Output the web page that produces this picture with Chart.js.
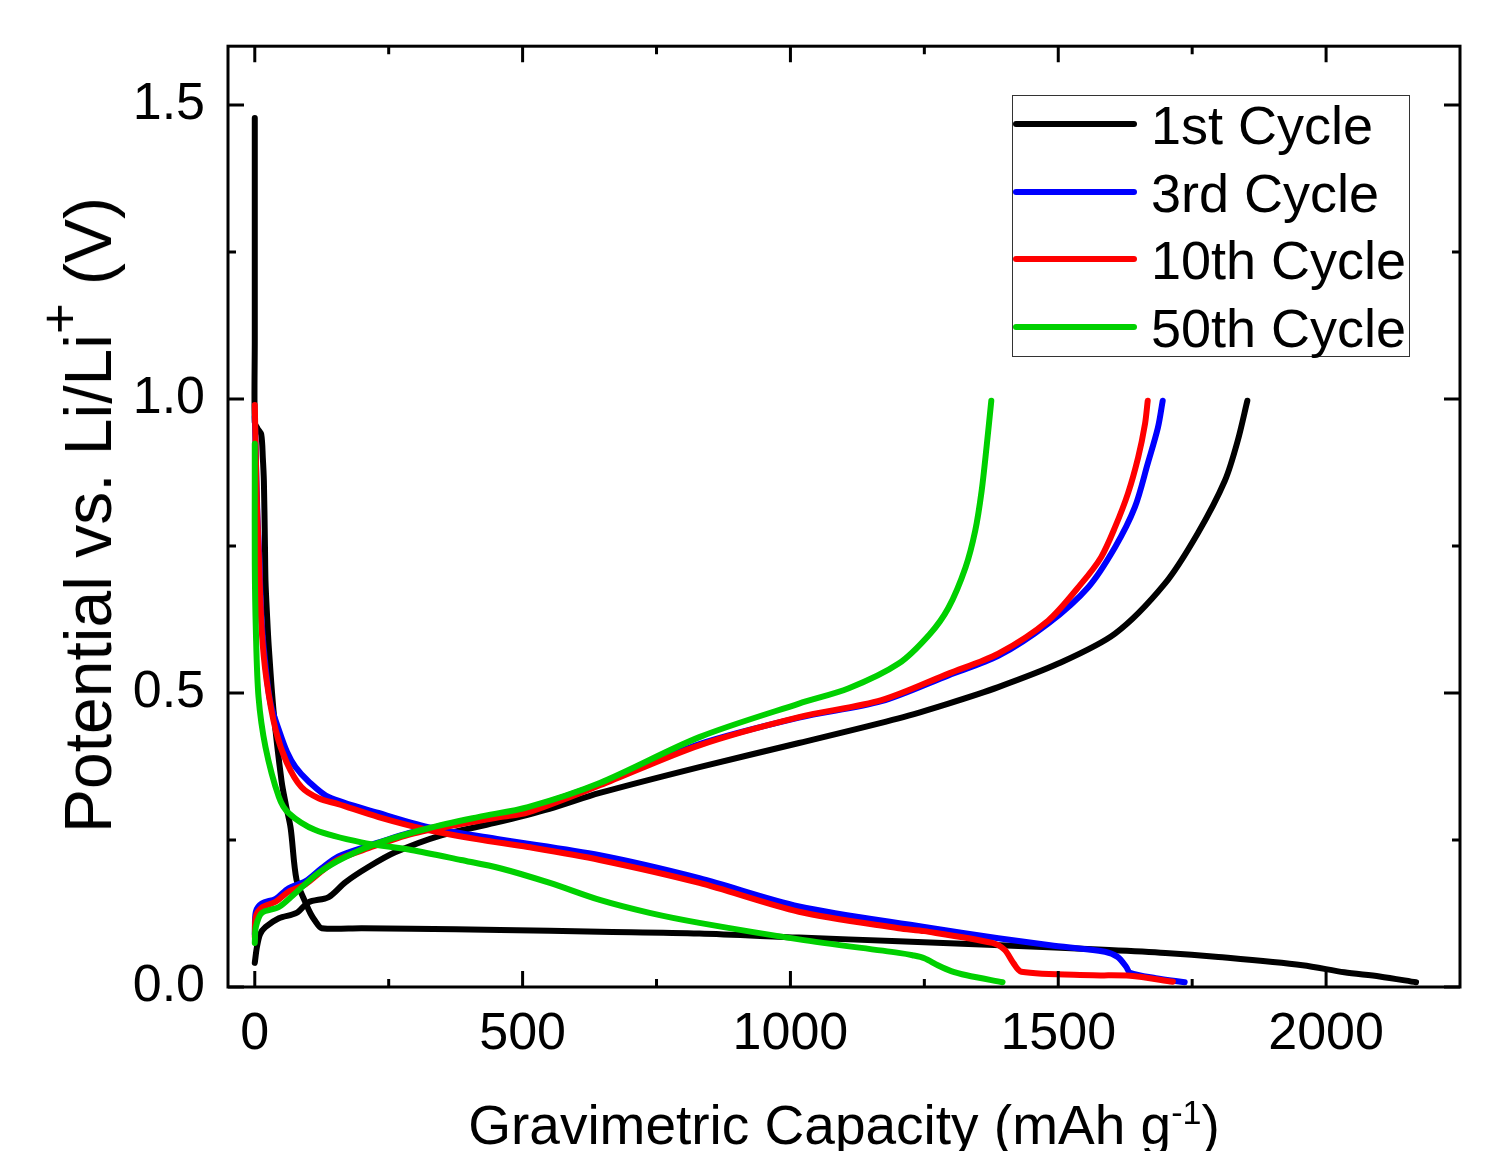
<!DOCTYPE html>
<html>
<head>
<meta charset="utf-8">
<script src="https://cdn.jsdelivr.net/npm/chart.js@4.4.1/dist/chart.umd.min.js"></script>
<style>
  html, body { margin: 0; padding: 0; background: #fff; }
  #wrap { position: relative; width: 1499px; height: 1151px; overflow: hidden; font-family: "Liberation Sans", Arial, sans-serif; color: #000; }
  #c { position: absolute; left: 0; top: 0; }
  .ytitle { position: absolute; left: 88px; top: 515px; transform: translate(-50%, -50%) rotate(-90deg); font-size: 66px; white-space: nowrap; line-height: 1; }
  .ytitle sup { font-size: 0.8em; vertical-align: 0.62em; line-height: 0; }
  .xtitle { position: absolute; left: 844px; top: 1098px; transform: translateX(-50%); font-size: 55px; white-space: nowrap; line-height: 1; }
  .xtitle sup { font-size: 0.62em; vertical-align: 0.6em; line-height: 0; }
  #legend { position: absolute; left: 1012px; top: 95px; width: 398px; height: 262px; border: 1.5px solid #333; box-sizing: border-box; }
  .row { position: absolute; left: 0; height: 60px; width: 420px; }
  .row .ln { position: absolute; left: 0; top: 26px; width: 124px; height: 6px; border-radius: 3px; }
  .row .tx { position: absolute; left: 138px; top: 0; font-size: 54px; line-height: 60px; white-space: nowrap; }
</style>
</head>
<body>
<div id="wrap">
  <canvas id="c" width="1499" height="1151"></canvas>
  <div class="ytitle">Potential vs. Li/Li<sup>+</sup> (V)</div>
  <div class="xtitle">Gravimetric Capacity (mAh g<sup>-1</sup>)</div>
  <div id="legend"></div>
</div>
<script>
// axis ticks
const xTicks = [0, 500, 1000, 1500, 2000];
const xMinor = [250, 750, 1250, 1750];
const yTicks = [0, 0.5, 1.0, 1.5];
const yMinor = [0.25, 0.75, 1.25];

const cycleNames = ['1st Cycle', '3rd Cycle', '10th Cycle', '50th Cycle'];
const cycleColors = ['#000000', '#0000ff', '#ff0000', '#00d000'];

// 1st cycle
const cap1Dis = [0, 0, 0, 0, 5, 12, 15, 17, 19, 20, 23, 26, 35, 50, 58, 67, 78, 95, 104, 113, 125, 200, 292, 458, 644, 830, 1016, 1202, 1392, 1595, 1700, 1799, 1956, 2034, 2100, 2168];
const volt1Dis = [1.478, 1.30, 1.10, 0.96, 0.95, 0.94, 0.90, 0.86, 0.75, 0.69, 0.63, 0.58, 0.47, 0.35, 0.31, 0.27, 0.182, 0.143, 0.125, 0.112, 0.100, 0.100, 0.099, 0.097, 0.094, 0.091, 0.084, 0.078, 0.071, 0.063, 0.058, 0.051, 0.037, 0.025, 0.018, 0.008];
const cap1Chg = [0, 4, 10, 20, 45, 78, 100, 138, 169, 212, 262, 348, 448, 550, 644, 830, 1016, 1202, 1295, 1388, 1500, 1606, 1699, 1760, 1811, 1835, 1853];
const volt1Chg = [0.041, 0.068, 0.090, 0.102, 0.117, 0.126, 0.144, 0.153, 0.178, 0.204, 0.229, 0.258, 0.279, 0.303, 0.330, 0.374, 0.415, 0.457, 0.482, 0.510, 0.550, 0.601, 0.686, 0.771, 0.861, 0.929, 0.997];

// 3rd cycle
const cap3Dis = [0, 2, 5, 8, 13, 22, 30, 45, 60, 76, 100, 138, 231, 324, 458, 644, 830, 1016, 1250, 1388, 1485, 1587, 1611, 1627, 1634, 1682, 1736];
const volt3Dis = [0.97, 0.90, 0.80, 0.74, 0.62, 0.53, 0.48, 0.437, 0.40, 0.374, 0.35, 0.323, 0.296, 0.272, 0.251, 0.224, 0.185, 0.137, 0.102, 0.083, 0.071, 0.060, 0.051, 0.034, 0.024, 0.015, 0.008];
const cap3Chg = [0, 2, 13, 39, 63, 95, 125, 156, 212, 292, 385, 458, 644, 830, 1016, 1170, 1295, 1388, 1481, 1556, 1606, 1643, 1667, 1686, 1695];
const volt3Chg = [0.090, 0.128, 0.142, 0.150, 0.168, 0.180, 0.202, 0.222, 0.240, 0.263, 0.280, 0.290, 0.345, 0.413, 0.458, 0.486, 0.530, 0.563, 0.618, 0.680, 0.748, 0.816, 0.890, 0.951, 0.997];

// 10th cycle
const cap10Dis = [0, 2, 4, 7, 13, 22, 39, 60, 87, 119, 156, 231, 324, 417, 510, 644, 830, 1016, 1202, 1250, 1377, 1400, 1416, 1431, 1565, 1634, 1714];
const volt10Dis = [0.99, 0.90, 0.82, 0.748, 0.607, 0.522, 0.437, 0.381, 0.340, 0.321, 0.311, 0.289, 0.267, 0.251, 0.238, 0.216, 0.177, 0.128, 0.100, 0.095, 0.075, 0.063, 0.041, 0.026, 0.020, 0.019, 0.009];
const cap10Chg = [0, 2, 13, 39, 63, 95, 125, 156, 212, 292, 385, 458, 510, 644, 830, 1016, 1170, 1295, 1388, 1481, 1543, 1580, 1606, 1630, 1649, 1662, 1667];
const volt10Chg = [0.085, 0.120, 0.135, 0.145, 0.162, 0.175, 0.197, 0.217, 0.236, 0.260, 0.277, 0.289, 0.297, 0.343, 0.411, 0.459, 0.488, 0.533, 0.567, 0.623, 0.686, 0.731, 0.782, 0.839, 0.900, 0.958, 0.997];

// 50th cycle
const cap50Dis = [0, 0, 0, 2, 7, 20, 45, 63, 113, 199, 292, 385, 458, 551, 644, 737, 830, 1016, 1202, 1228, 1250, 1275, 1300, 1329, 1396];
const volt50Dis = [0.924, 0.86, 0.72, 0.607, 0.493, 0.408, 0.323, 0.296, 0.267, 0.246, 0.233, 0.216, 0.202, 0.177, 0.148, 0.126, 0.109, 0.081, 0.058, 0.054, 0.049, 0.037, 0.027, 0.020, 0.008];
const cap50Chg = [0, 2, 13, 45, 76, 119, 169, 231, 324, 417, 510, 644, 830, 1016, 1109, 1202, 1260, 1295, 1327, 1345, 1357, 1366, 1375];
const volt50Chg = [0.075, 0.102, 0.126, 0.136, 0.160, 0.194, 0.221, 0.245, 0.270, 0.289, 0.306, 0.347, 0.425, 0.482, 0.508, 0.550, 0.600, 0.645, 0.714, 0.776, 0.844, 0.917, 0.997];

const curves = [
  [cap1Dis, volt1Dis, 0], [cap1Chg, volt1Chg, 0],
  [cap3Dis, volt3Dis, 1], [cap3Chg, volt3Chg, 1],
  [cap10Dis, volt10Dis, 2], [cap10Chg, volt10Chg, 2],
  [cap50Dis, volt50Dis, 3], [cap50Chg, volt50Chg, 3]
];
const drawOrder = [3, 2, 1, 0]; // green on top

const pts = (xs, ys) => xs.map((v, i) => ({ x: v, y: ys[i] }));

const datasets = curves.map(([xs, ys, k]) => ({
  label: cycleNames[k],
  data: pts(xs, ys),
  borderColor: cycleColors[k],
  borderWidth: 6,
  pointRadius: 0,
  tension: 0.3,
  borderCapStyle: 'round',
  borderJoinStyle: 'round',
  order: drawOrder[k],
  fill: false
}));

// legend (HTML)
const leg = document.getElementById('legend');
cycleNames.forEach((name, i) => {
  const r = document.createElement('div');
  r.className = 'row';
  r.style.top = (-1 + i * 67.5) + 'px';
  r.innerHTML = '<div class="ln" style="background:' + cycleColors[i] + '"></div><div class="tx">' + name + '</div>';
  leg.appendChild(r);
});

const frameTicks = {
  id: 'frameTicks',
  afterDatasetsDraw(chart) {
    const { ctx, chartArea: a, scales: { x, y } } = chart;
    ctx.save();
    ctx.strokeStyle = '#000';
    ctx.lineWidth = 3;
    ctx.beginPath();
    const vx = (list, len) => list.forEach(v => {
      const p = x.getPixelForValue(v);
      ctx.moveTo(p, a.bottom); ctx.lineTo(p, a.bottom - len);
      ctx.moveTo(p, a.top); ctx.lineTo(p, a.top + len);
    });
    const vy = (list, len) => list.forEach(v => {
      const p = y.getPixelForValue(v);
      ctx.moveTo(a.left, p); ctx.lineTo(a.left + len, p);
      ctx.moveTo(a.right, p); ctx.lineTo(a.right - len, p);
    });
    vx(xTicks, 16); vx(xMinor, 8);
    vy(yTicks, 16); vy(yMinor, 8);
    ctx.stroke();
    ctx.strokeRect(a.left, a.top, a.width, a.height);
    ctx.restore();
  }
};

new Chart(document.getElementById('c'), {
  type: 'line',
  data: { datasets: datasets },
  options: {
    responsive: false,
    animation: false,
    devicePixelRatio: 1,
    layout: { padding: { top: 40, right: 39, left: 0, bottom: 0 } },
    plugins: { legend: { display: false }, tooltip: { enabled: false } },
    scales: {
      x: {
        type: 'linear',
        min: -50, max: 2250,
        grid: { display: false },
        border: { display: false },
        afterBuildTicks: s => { s.ticks = xTicks.map(v => ({ value: v })); },
        afterFit: s => { s.height = 164; },
        ticks: {
          color: '#000',
          padding: 8,
          font: { family: '"Liberation Sans", Arial, sans-serif', size: 52 },
          callback: v => String(v)
        }
      },
      y: {
        type: 'linear',
        min: 0, max: 1.6,
        grid: { display: false },
        border: { display: false },
        afterBuildTicks: s => { s.ticks = yTicks.map(v => ({ value: v })); },
        afterFit: s => { s.width = 228; },
        ticks: {
          color: '#000',
          padding: 15,
          font: { family: '"Liberation Sans", Arial, sans-serif', size: 52 },
          callback: v => v.toFixed(1)
        }
      }
    }
  },
  plugins: [frameTicks]
});
</script>
</body>
</html>
